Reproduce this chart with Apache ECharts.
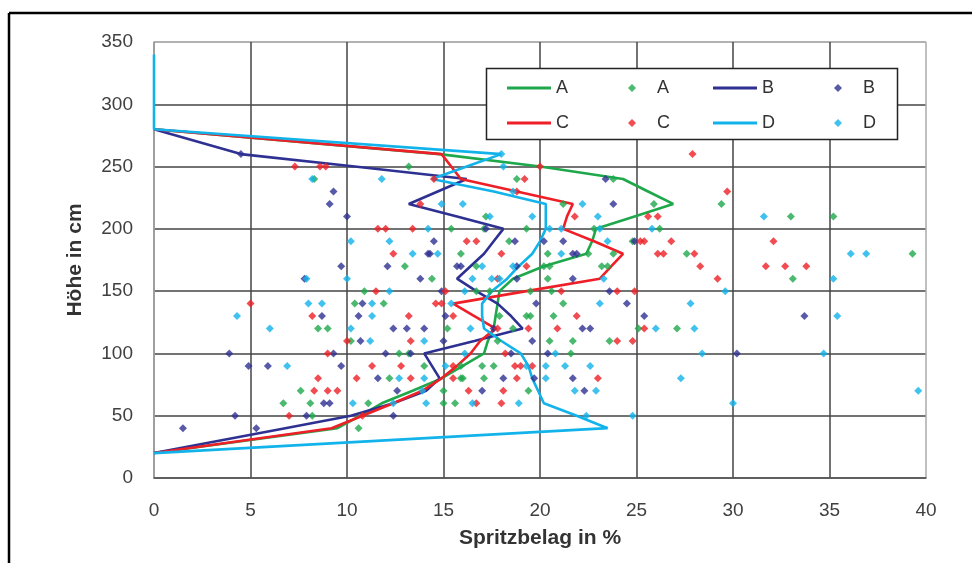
<!DOCTYPE html>
<html><head><meta charset="utf-8">
<script src="https://cdn.jsdelivr.net/npm/echarts@6/dist/echarts.min.js"></script>
<style>html,body{margin:0;padding:0;background:#fff}#c{width:978px;height:563px}</style>
</head><body><div id="c"></div>
<script>
// ---- data ----
const xLabelsAxis = { min: 0, max: 40, step: 5 };
const yLabelsAxis = { min: 0, max: 350, step: 50 };

const lineHeights = [20,40,50,60,70,80,90,100,110,120,130,140,150,160,170,180,190,200,210,220,230,240,250,260,280];
const lineA = [0,9.5,10.7,11.8,13.4,14.9,16.0,17.1,17.3,17.6,17.7,17.8,17.9,18.6,20.2,22.4,22.7,22.9,24.9,26.9,25.6,24.3,20.0,14.8,0];
const lineB = [0,6.8,10.2,12.4,14.1,14.8,14.4,14.0,16.6,19.1,18.5,17.8,16.7,15.7,16.4,17.1,17.6,18.1,15.7,13.2,14.7,16.2,10.4,4.5,0];
const lineC = [0,9.2,10.8,12.4,13.9,14.9,15.7,16.4,16.9,17.7,16.6,15.5,19.3,23.1,23.7,24.3,22.8,21.2,21.4,21.7,18.8,15.9,15.4,14.9,0];
const lineDHeights = [20,40,50,60,70,80,90,100,110,120,130,140,150,160,170,180,190,200,210,220,230,240,250,260,280,340];
const lineD = [0,23.5,21.9,20.2,19.9,19.6,19.4,19.0,18.0,17.1,17.0,17.0,17.5,18.3,18.9,19.6,20.0,20.3,20.3,20.3,17.6,14.4,16.2,18.0,0,0];

// scatter: [height, [values in %]]
const ptsA = [
 [40,[10.6]],[50,[8.2]],[60,[6.7,8.1,11.1,15.0,15.6]],[70,[7.6,15.0,19.4]],
 [80,[12.2,15.9,16.0,17.1]],[90,[14.0,15.9,17.0,17.6]],[100,[12.7,13.2,21.6]],
 [110,[10.2,17.8,20.5,21.7,23.6]],[120,[8.5,9.0,15.2,18.6,25.1,27.1]],
 [130,[17.9,19.3,19.5,20.7]],[140,[10.4,11.9,21.2]],[150,[10.9,16.7,17.4,19.5,20.6]],
 [160,[14.4,20.4,33.1]],[170,[13.0,16.7,20.2,20.5,23.2,23.5]],
 [180,[15.9,20.4,22.5,23.8,27.6,39.3]],[190,[18.4,24.8]],[200,[15.4,17.1,19.3,22.8,26.2]],
 [210,[17.2,33.0,35.2]],[220,[21.2,25.9,29.4]],[240,[8.3,18.8,23.8]],[250,[13.2]]
];
const ptsB = [
 [40,[1.5,5.3]],[50,[4.2,7.9,12.4]],[60,[8.8,9.1]],[70,[12.6,17.0,22.3]],
 [80,[11.6,18.1,19.7,21.7]],[90,[4.9,5.9,9.7]],[100,[3.9,9.3,12.0,13.3,18.5,20.4,30.2]],
 [110,[10.7,15.0,19.6]],[120,[12.4,13.1,14.0,17.6,22.2,22.6]],[130,[8.7,10.6,15.1,25.4,33.7]],
 [140,[10.8,19.8,24.5]],[150,[14.9,23.6]],[160,[7.8,13.8,18.8,21.7]],
 [170,[9.7,12.1,15.7,15.9,18.8]],[180,[14.2,14.3,21.7,21.9]],[190,[14.5,18.7,20.2,21.2,24.9]],
 [200,[17.2]],[210,[10.0]],[220,[9.1,23.8]],[230,[9.3]],[240,[23.4]],[260,[4.5]]
];
const ptsC = [
 [50,[7.0,10.8]],[60,[16.7,18.0]],[70,[8.3,9.0,9.5,16.3,18.1]],
 [80,[8.5,10.5,13.3,15.5,18.8,23.0]],[90,[11.3,12.8,15.5,18.7,19.0,19.6]],[100,[9.0,18.2]],
 [110,[10.0,13.3,24.0,24.8]],[120,[17.8,19.4,20.9,25.4]],[130,[8.2,13.2,15.5,21.9]],
 [140,[5.0,14.6,14.9]],[150,[11.5,15.1,21.1,24.0,24.9]],[160,[17.8,29.2]],
 [170,[19.3,28.3,31.7,32.7,33.8]],[180,[12.4,18.0,26.1,26.4,28.0]],
 [190,[16.2,16.7,25.2,25.4,26.8,32.1]],[200,[11.6,12.0,13.4]],[210,[21.8,25.6,26.1]],
 [220,[13.8]],[230,[18.8,29.7]],[240,[14.5,19.2]],[250,[7.3,8.6,8.9,20.0]],[260,[27.9]]
];
const ptsD = [
 [50,[22.4,24.8]],[60,[10.3,12.4,14.1,16.5,18.9,30.0]],[70,[13.9,21.8,22.9,39.6]],
 [80,[12.7,14.0,20.3,27.3]],[90,[6.9,15.1,19.3,20.3,21.3,22.6]],[100,[16.1,20.8,28.4,34.7]],
 [110,[11.2,14.0]],[120,[6.0,10.2,16.4,26.0,28.0]],[130,[4.3,11.3,35.4]],
 [140,[8.0,8.7,11.3,15.4,23.1,27.8]],[150,[12.2,16.1,29.6]],
 [160,[7.9,10.0,16.5,17.5,17.9,23.3,35.2]],[170,[17.0,18.6]],[180,[13.4,14.7,21.1,36.1,36.9]],
 [190,[10.2,12.2,23.5]],[200,[14.2,20.5,21.1,23.1,25.8]],[210,[17.4,19.6,23.0,31.6]],
 [220,[14.9,16.0,22.2]],[230,[18.6]],[240,[8.2,11.8]],[250,[18.1]],[260,[18.0]]
];

const seriesNames = ['A','B','C','D'];
const colors = { A:'#1ea84b', B:'#2e3192', C:'#ee1f26', D:'#12b3ea' };

// ---- build ----
const pair = (xs, hs) => xs.map((v,i) => [v, hs[i]]);
const flat = rows => rows.flatMap(([h, vs]) => vs.map(v => [v, h]));
const lines = { A: pair(lineA, lineHeights), B: pair(lineB, lineHeights), C: pair(lineC, lineHeights), D: pair(lineD, lineDHeights) };
const pts = { A: flat(ptsA), B: flat(ptsB), C: flat(ptsC), D: flat(ptsD) };

const FONT = "'Liberation Sans', Arial, sans-serif";
const series = [];
seriesNames.forEach(n => {
  series.push({ name: n + '_line', type: 'line', data: lines[n], symbol: 'none',
    lineStyle: { color: colors[n], width: 2.6 }, itemStyle: { color: colors[n] }, z: 2 });
  series.push({ name: n + '_pts', type: 'scatter', data: pts[n], symbol: 'diamond', symbolSize: 8,
    itemStyle: { color: colors[n] }, z: 2 });
});

// legend: 4 columns, 2 rows (A line, A pts, B line, B pts / C line, C pts, D line, D pts)
const legendOrder = ['A_line','A_pts','B_line','B_pts','C_line','C_pts','D_line','D_pts'];
const legCols = [507, 628, 713, 834];
const legRows = [79, 114];
const legends = legendOrder.map((nm, i) => {
  const isLine = nm.endsWith('_line');
  return {
    data: [{ name: nm, icon: isLine ? 'rect' : 'diamond' }],
    left: legCols[i % 4], top: legRows[Math.floor(i / 4)], padding: 0,
    itemWidth: isLine ? 44 : 8, itemHeight: isLine ? 3 : 8, itemGap: 0,
    selectedMode: false, z: 200,
    formatter: s => s.split('_')[0],
    textStyle: { fontFamily: FONT, fontSize: 18, color: '#333', lineHeight: 16,
      padding: [0, 0, 0, isLine ? 0 : 16] }
  };
});

const xSplitColors = ['#999','#444','#444','#444','#444','#444','#444','#444','#aaa'];
const ySplitColors = ['#555','#444','#444','#444','#444','#444','#444','#999'];

const chart = echarts.init(document.getElementById('c'), null, { renderer: 'canvas' });
chart.setOption({
  animation: false,
  backgroundColor: '#fff',
  grid: { left: 154, right: 52, top: 42, bottom: 85, containLabel: false },
  xAxis: {
    type: 'value', min: xLabelsAxis.min, max: xLabelsAxis.max, interval: xLabelsAxis.step,
    name: 'Spritzbelag in %', nameLocation: 'middle', nameGap: 50,
    nameTextStyle: { fontFamily: FONT, fontSize: 21, fontWeight: 'bold', color: '#333' },
    axisLine: { show: true, lineStyle: { color: '#555', width: 1.5 } },
    axisTick: { show: false },
    axisLabel: { margin: 23, fontFamily: FONT, fontSize: 19, color: '#404040' },
    splitLine: { show: true, lineStyle: { color: xSplitColors, width: 1.5 } }
  },
  yAxis: {
    type: 'value', min: yLabelsAxis.min, max: yLabelsAxis.max, interval: yLabelsAxis.step,
    name: 'Höhe in cm', nameLocation: 'middle', nameGap: 68, nameRotate: 90,
    nameTextStyle: { fontFamily: FONT, fontSize: 21, fontWeight: 'bold', color: '#333' },
    axisLine: { show: true, lineStyle: { color: '#999', width: 1.5 } },
    axisTick: { show: false },
    axisLabel: { margin: 21, fontFamily: FONT, fontSize: 19, color: '#404040' },
    splitLine: { show: true, lineStyle: { color: ySplitColors, width: 1.5 } }
  },
  legend: legends,
  graphic: [
    { type: 'rect', z: 150, shape: { x: 486.5, y: 68.5, width: 411, height: 71 },
      style: { fill: '#fff', stroke: '#222', lineWidth: 1.5 } },
    { type: 'line', z: 150, shape: { x1: 9, y1: 13, x2: 972, y2: 13 }, style: { stroke: '#000', lineWidth: 2.5 } },
    { type: 'line', z: 150, shape: { x1: 9, y1: 13, x2: 9, y2: 563 }, style: { stroke: '#000', lineWidth: 2.5 } }
  ],
  series: series
});
</script></body></html>
